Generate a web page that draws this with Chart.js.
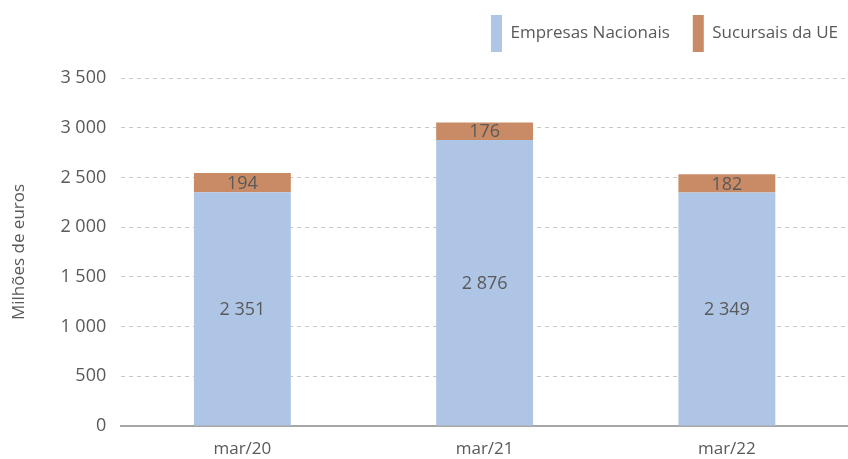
<!DOCTYPE html>
<html>
<head>
<meta charset="utf-8">
<script src="https://cdn.jsdelivr.net/npm/chart.js@4"></script>
<style>
  html, body { margin: 0; padding: 0; background: #fff; }
  #wrap { width: 848px; height: 459px; }
</style>
</head>
<body>
<div id="wrap"><canvas id="chart"></canvas></div>
<script>
const categories = ['mar/20', 'mar/21', 'mar/22']
const nacionais = [2351, 2876, 2349]
const sucursais = [194, 176, 182]
const yTicks = [0, 500, 1000, 1500, 2000, 2500, 3000, 3500]

const fmt = v => String(v).replace(/\B(?=(\d{3})+(?!\d))/g, ' ')
const txtColor = '#595959'
const fontFamily = '"Open Sans", sans-serif'

// value labels, drawn at the centre of each bar segment
const labelsPlugin = {
    id: 'segLabels',
    beforeInit(chart) {
        // extra room under the legend
        const fit = chart.legend.fit
        chart.legend.fit = function () {
            fit.bind(chart.legend)()
            this.height += 7
        }
    },
    afterLayout(chart) {
        // push legend flush right / up a bit
        chart.legend.right += 13
        chart.legend.top -= 9
    },
    afterDraw(chart) {
        const ctx = chart.ctx
        ctx.save()
        ctx.font = '18px ' + fontFamily
        ctx.fillStyle = txtColor
        ctx.textAlign = 'center'
        ctx.textBaseline = 'middle'
        chart.data.datasets.forEach((ds, i) => {
            chart.getDatasetMeta(i).data.forEach((bar, j) => {
                const y = (bar.y + bar.base) / 2
                ctx.fillText(fmt(ds.data[j]), bar.x, y + 1)
            })
        })
        ctx.restore()
    }
}

const chartCtx = document.getElementById('chart').getContext('2d')
const chart = new Chart(chartCtx, {
    type: 'bar',
    data: {
        labels: categories,
        datasets: [{
            label: 'Empresas Nacionais',
            data: nacionais,
            backgroundColor: '#AFC5E5',
            categoryPercentage: 1,
            barPercentage: 0.4
        }, {
            label: 'Sucursais da UE',
            data: sucursais,
            backgroundColor: '#C98B66',
            categoryPercentage: 1,
            barPercentage: 0.4
        }]
    },
    options: {
        responsive: true,
        maintainAspectRatio: false,
        animation: false,
        layout: { padding: { left: 9, right: 0, top: 1, bottom: 0 } },
        plugins: {
            tooltip: { enabled: false },
            legend: {
                position: 'top',
                align: 'end',
                labels: {
                    boxWidth: 11,
                    boxHeight: 37,
                    padding: 23,
                    color: txtColor,
                    font: { family: fontFamily, size: 17 }
                }
            }
        },
        scales: {
            x: {
                stacked: true,
                grid: { display: false, drawTicks: false },
                border: { color: '#A6A6A6', width: 2 },
                ticks: { color: txtColor, font: { family: fontFamily, size: 17 }, padding: 13 },
                afterFit: axis => { axis.height = 33 }
            },
            y: {
                stacked: true,
                min: 0,
                max: 3500,
                z: 1,
                afterBuildTicks: axis => { axis.ticks = yTicks.map(v => ({ value: v })) },
                border: { display: false, dash: [4, 4] },
                grid: {
                    color: c => c.tick && c.tick.value === 0 ? 'rgba(0,0,0,0)' : '#C8C8C8',
                    drawTicks: false
                },
                ticks: {
                    color: txtColor,
                    padding: 15,
                    font: { family: fontFamily, size: 18 },
                    callback: v => fmt(v)
                },
                title: {
                    display: true,
                    text: 'Milhões de euros',
                    color: txtColor,
                    font: { family: fontFamily, size: 17 },
                    padding: { top: 0, bottom: 16 }
                }
            }
        }
    },
    plugins: [labelsPlugin]
})
</script>
</body>
</html>
